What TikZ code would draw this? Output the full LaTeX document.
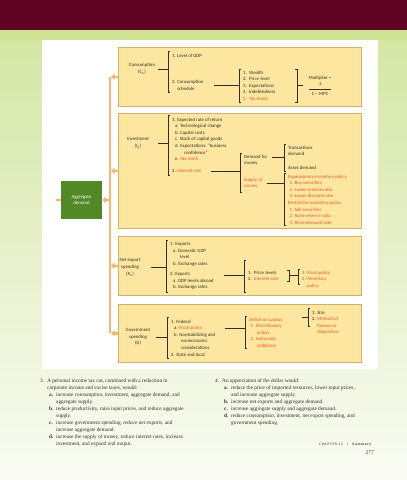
\documentclass[tikz,border=0pt]{standalone}
\usepackage{fontspec}
\setmainfont{Liberation Serif}
\newfontfamily\figfont{Carlito}
\usetikzlibrary{arrows.meta}

\definecolor{pagebar}{RGB}{94,4,34}
\definecolor{stripgreen}{RGB}{208,226,148}
\definecolor{bggreen}{RGB}{212,230,164}
\definecolor{boxfill}{RGB}{253,231,160}
\definecolor{boxline}{RGB}{210,178,104}
\definecolor{flow}{RGB}{247,181,112}
\definecolor{adgreen}{RGB}{80,137,38}
\definecolor{hot}{RGB}{230,84,44}
\definecolor{ink}{RGB}{50,45,38}

\tikzset{
  detbox/.style={draw=boxline, fill=boxfill, line width=0.6pt, anchor=north west,
    inner sep=0pt},
  adbox/.style={fill=adgreen, text=white, minimum width=41pt, minimum height=38pt,
    font=\figfont\fontsize{4.8}{6.6}\selectfont, align=center, inner sep=0pt},
  lst/.style={font=\figfont\fontsize{4.8}{6.6}\selectfont, text=ink, align=left,
    anchor=north west, inner xsep=4pt, inner ysep=0pt},
  boxlabel/.style={font=\figfont\fontsize{4.8}{6.6}\selectfont, text=ink, align=center,
    inner sep=0pt},
  brk/.style={draw=ink, line width=0.45pt},
  flowline/.style={draw=flow, line width=2.4pt},
  feed/.style={flowline, -{Triangle[width=6pt,length=3.5pt]}},
  ques/.style={font=\fontsize{5.3}{7}\selectfont, text=ink, align=left,
    anchor=north west, inner sep=0pt},
}

% brackets on the left / right side of a list
\newcommand{\openbr}[2]{\draw[brk] #1 ++(2,0) -- ++(-2,0) -- #2 -- ++(2,0);}
\newcommand{\shutbr}[2]{\draw[brk] #1 ++(-2,0) -- ++(2,0) -- #2 -- ++(-2,0);}
\newcommand{\qitem}[1]{\hspace*{9pt}\makebox[7pt][l]{\textbf{#1}}}
\newcommand{\qcont}{\hspace*{16pt}}

\begin{document}
\begin{tikzpicture}[x=1pt, y=-1pt]
\useasboundingbox (0,0) rectangle (407,480);

% page ground
\shade[top color=bggreen, bottom color=bggreen!12] (0,40) rectangle (407,480);
\fill[pagebar] (0,0) rectangle (407,30);
\fill[stripgreen] (0,30) rectangle (407,40);
\fill[white] (42,40) rectangle (378,369);

% determinant boxes
\node[detbox, minimum width=243pt, minimum height=59pt] (cons) at (118,47) {};
\node[detbox, minimum width=243pt, minimum height=115pt] (inv) at (118,113) {};
\node[detbox, minimum width=243pt, minimum height=59pt] (net) at (118,236) {};
\node[detbox, minimum width=243pt, minimum height=58pt] (gov) at (118,304) {};

\node[adbox] (ad) at (81.5,200) {Aggregate\\demand};

% feeding arrows
\coordinate (bartop) at (110,76.5);
\coordinate (barbot) at (110,333);
\coordinate (adfeed) at (56,200);
\draw[flowline] (bartop) -- (barbot);
\foreach \b in {cons,inv,net,gov}
  \draw[feed] (\b.west) -- ([xshift=1pt]\b.west -| bartop);
\draw[feed] (bartop |- ad.east) -- (ad.east);
\draw[flowline] (adfeed) -- (ad.west);

% consumption
\node[boxlabel] (conslab) at (142,69) {Consumption\\(C\textsubscript{a})};
\node[lst] (gdp) at (168,53.5) {1. Level of GDP};
\node[lst] (sched) at (168,80) {2. Consumption\\\phantom{2. }schedule};
\openbr{([yshift=2pt]gdp.north west)}{([yshift=-2pt]sched.south west)}
\draw[brk] (conslab -| gdp.west) -- ++(-10,0);
\node[lst, text width=50pt] (wealth) at (239,70.5) {1. Wealth\\2. Price level\\3. Expectations\\4. Indebtedness\\\textcolor{hot}{5. Tax levels}};
\openbr{([yshift=1.5pt]wealth.north west)}{([yshift=-1.5pt]wealth.south west)}
\shutbr{([yshift=1.5pt]wealth.north east)}{([yshift=-1.5pt]wealth.south east)}
\draw[brk] ([xshift=6pt]sched.east) -- (sched.east -| wealth.west);
\draw[brk] (wealth.east) -- ++(6,0);
\node[boxlabel] (mult) at (320,78) {Multiplier =};
\node[boxlabel] (num) at (320,84) {1};
\node[boxlabel, inner xsep=2pt, inner ysep=2.5pt] (den) at (320,93.5) {1 -- MPC};
\draw[brk] (den.north west) -- (den.north east);

% investment
\node[boxlabel] (invlab) at (138,143.5) {Investment\\(I\textsubscript{g})};
\node[lst] (invlist) at (168,117.5) {1. Expected rate of return\\
  \hspace*{3pt}a. Technological change\\
  \hspace*{3pt}b. Capital costs\\
  \hspace*{3pt}c. Stock of capital goods\\
  \hspace*{3pt}d. Expectations: “business\\
  \hspace*{12pt}confidence”\\
  \hspace*{3pt}e. \textcolor{hot}{Tax levels}};
\node[lst] (irate) at (168,169.5) {2. \textcolor{hot}{Interest rate}};
\openbr{([yshift=2pt]invlist.north west)}{([yshift=-2pt]irate.south west)}
\draw[brk] (invlab -| invlist.west) -- ++(-10,0);
\node[lst] (demand) at (240,154.5) {Demand for\\money};
\node[lst, text=hot] (supply) at (240,177.5) {Supply of\\money};
\openbr{([yshift=1.5pt]demand.north west)}{([yshift=-4pt]supply.south west)}
\draw[brk] ([xshift=6pt]irate.east) -- (irate.east -| demand.west);
\node[lst] (trans) at (284,145.5) {Transactions\\demand\\[7.4pt]Asset demand};
\openbr{([yshift=1pt]trans.north west)}{([yshift=-1pt]trans.south west)}
\coordinate (demtap) at ([yshift=2.5pt]demand.east);
\draw[brk] (demtap) -- (demtap -| trans.west);
\node[lst, text=hot] (mon) at (284,174.5) {Expansionary monetary policy\\
  \hspace*{1.5pt}1. Buy securities\\
  \hspace*{1.5pt}2. Lower reserve ratio\\
  \hspace*{1.5pt}3. Lower discount rate\\
  Restrictive monetary policy\\
  \hspace*{1.5pt}1. Sell securities\\
  \hspace*{1.5pt}2. Raise reserve ratio\\
  \hspace*{1.5pt}3. Raise discount rate};
\openbr{([yshift=1.5pt]mon.north west)}{([yshift=-1pt]mon.south west)}
\draw[brk] (supply.east) -- (supply.east -| mon.west);

% net exports
\node[boxlabel] (netlab) at (130,267.5) {Net export\\spending\\(X\textsubscript{n})};
\node[lst] (netlist) at (166,242.5) {1. Imports\\
  \hspace*{3pt}a. Domestic GDP\\
  \hspace*{10pt}level\\
  \hspace*{3pt}b. Exchange rates\\[3.4pt]
  2. Exports\\
  \hspace*{3pt}a. GDP levels abroad\\
  \hspace*{3pt}b. Exchange rates};
\openbr{([yshift=2pt]netlist.north west)}{([yshift=-2pt]netlist.south west)}
\draw[brk] (netlab -| netlist.west) -- ++(-15,0);
\node[lst, text width=37pt] (price) at (244,270.5) {1. Price levels\\2. \textcolor{hot}{Interest rate}};
\openbr{([yshift=10pt]price.north west)}{([yshift=-11pt]price.south west)}
\shutbr{([yshift=0.5pt]price.north east)}{([yshift=-0.5pt]price.south east)}
\coordinate (nettap) at (netlist.east |- price.west);
\draw[brk] ([xshift=6pt]nettap) -- (price.west);
\node[lst, text=hot] (policy) at (298,270.5) {1. Fiscal policy\\2. Monetary\\\phantom{2. }policy};
\openbr{([yshift=1.5pt]policy.north west)}{([yshift=4pt]policy.south west)}
\draw[brk] (price.east) -- (price.east -| policy.west);

% government
\node[boxlabel] (govlab) at (138,337) {Government\\spending\\(G)};
\node[lst] (fedlist) at (167,319.5) {1. Federal\\
  \hspace*{3pt}a. \textcolor{hot}{Fiscal policy}\\
  \hspace*{3pt}b. Nonstabilizing and\\
  \hspace*{10pt}noneconomic\\
  \hspace*{10pt}considerations\\
  2. State and local};
\openbr{([yshift=2pt]fedlist.north west)}{([yshift=-2pt]fedlist.south west)}
\draw[brk] (govlab -| fedlist.west) -- ++(-11,0);
\node[lst, text=hot] (deficit) at (245,317.5) {Deficit or surplus\\
  \hspace*{1.5pt}1. Discretionary\\
  \hspace*{8pt}action\\
  \hspace*{1.5pt}2. Automatic\\
  \hspace*{8pt}stabilizers};
\openbr{([yshift=1pt]deficit.north west)}{([yshift=-1pt]deficit.south west)}
\coordinate (fedtap) at ([yshift=-8.5pt]fedlist.north east);
\draw[brk] ([xshift=6pt]fedtap) -- (fedtap -| deficit.west);
\node[lst] (sizes) at (308,310.5) {1. Size\\2. \textcolor{hot}{Method of}\\\phantom{2. }\textcolor{hot}{finance or}\\\phantom{2. }\textcolor{hot}{disposition}};
\openbr{([yshift=2pt]sizes.north west)}{([yshift=-16pt]sizes.north west)}
\coordinate (sizetap) at ([yshift=-7pt]sizes.north west);
\draw[brk] (sizetap) -- ++(-6,0);

% review questions
\node[ques] (q3) at (40,379) {\makebox[7pt][l]{3.}A personal income tax cut, combined with a reduction in\\
  \hspace*{7pt}corporate income and excise taxes, would:\\
  \qitem{a.}increase consumption, investment, aggregate demand, and\\
  \qcont aggregate supply.\\
  \qitem{b.}reduce productivity, raise input prices, and reduce aggregate\\
  \qcont supply.\\
  \qitem{c.}increase government spending, reduce net exports, and\\
  \qcont increase aggregate demand.\\
  \qitem{d.}increase the supply of money, reduce interest rates, increase\\
  \qcont investment, and expand real output.};
\node[ques] (q4) at (215,379) {\makebox[7pt][l]{4.}An appreciation of the dollar would:\\
  \qitem{a.}reduce the price of imported resources, lower input prices,\\
  \qcont and increase aggregate supply.\\
  \qitem{b.}increase net exports and aggregate demand.\\
  \qitem{c.}increase aggregate supply and aggregate demand.\\
  \qitem{d.}reduce consumption, investment, net export spending, and\\
  \qcont government spending.};

% running foot
\node[font=\figfont\fontsize{3.6}{4}\selectfont, text=ink, anchor=east, inner sep=0pt] (runfoot) at (372,444) {\addfontfeature{LetterSpace=20}CHAPTER 12\quad|\quad\textbf{Summary}};
\node[font=\fontsize{5.5}{6}\selectfont, text=ink, anchor=east, inner sep=0pt] (folio) at (374,453) {277};
\end{tikzpicture}
\end{document}
